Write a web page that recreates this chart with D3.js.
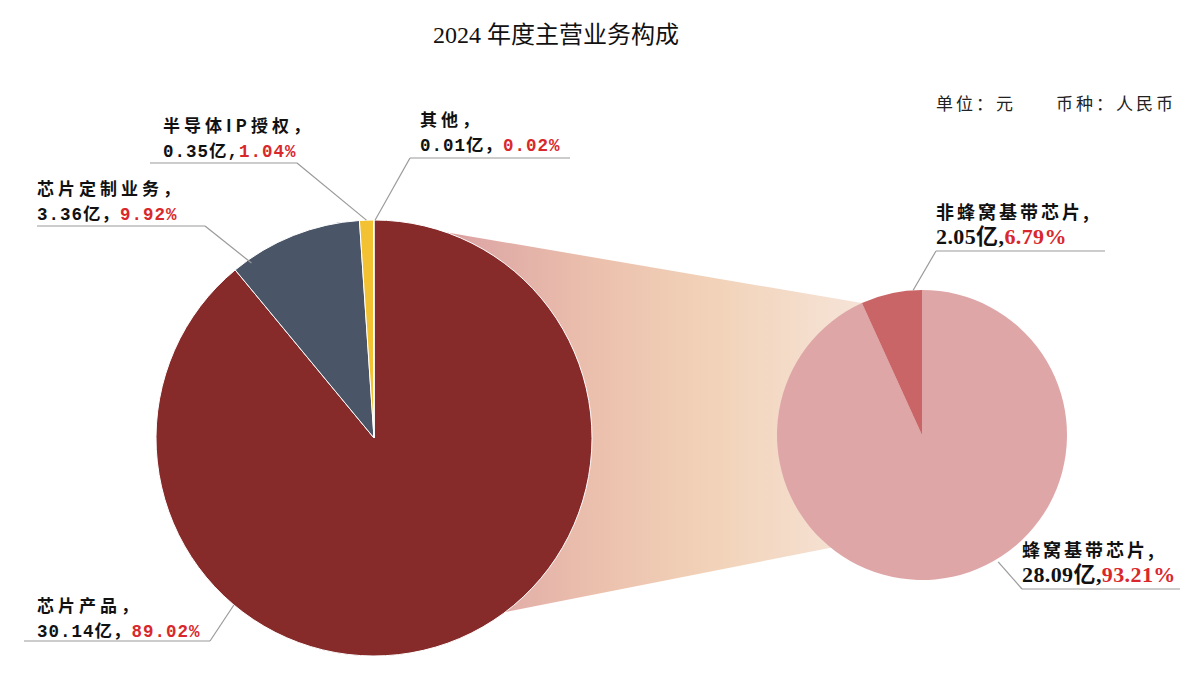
<!DOCTYPE html>
<html><head><meta charset="utf-8">
<script src="https://cdn.jsdelivr.net/npm/d3@7/dist/d3.min.js"></script>
<style>
html,body{margin:0;padding:0;background:#fff;}
svg{display:block;}
</style></head>
<body><svg id="chart" width="1200" height="688"></svg>
<script>
// ---- data ----
const title = "2024 年度主营业务构成";
const unitText = "单位：元　　币种：人民币";
const mainCategories = ["芯片产品", "芯片定制业务", "半导体IP授权", "其他"];
const mainValues = [30.14, 3.36, 0.35, 0.01];
const mainValueLabels = ["30.14亿，", "3.36亿，", "0.35亿,", "0.01亿，"];
const mainPercents = ["89.02%", "9.92%", "1.04%", "0.02%"];
const subCategories = ["蜂窝基带芯片", "非蜂窝基带芯片"];
const subValues = [28.09, 2.05];
const subValueLabels = ["28.09亿,", "2.05亿,"];
const subPercents = ["93.21%", "6.79%"];

// ---- styles / layout ----
const mainColors = ["#862a2a", "#4a5568", "#f2c232", "#f7e6a0"];
const subColors = ["#dfa6a8", "#c96566"];
const red = "#d8282c";
const mainC = {x: 374, y: 438, r: 218};
const subC = {x: 922, y: 435, r: 145};

const mainLabelLayout = [
  {tx: 37, ty: 612, uy: 641, ux0: 24, ux1: 210, knee: 210, ang: 220, rf: 1.0, font: "sans"},
  {tx: 37, ty: 195, uy: 226, ux0: 37, ux1: 205, knee: 205, ang: 325, rf: 0.98, font: "sans"},
  {tx: 163, ty: 132, uy: 163, ux0: 150, ux1: 297, knee: 297, ang: 358, rf: 1.0, font: "sans"},
  {tx: 420, ty: 126, uy: 158, ux0: 410, ux1: 570, knee: 410, ang: 0.3, rf: 1.0, font: "sans"}
];
const subLabelLayout = [
  {tx: 1022, ty: 557, uy: 589, ux0: 1022, ux1: 1180, knee: 1022, ang: 149, rf: 1.02, font: "serif"},
  {tx: 936, ty: 219, uy: 251, ux0: 936, ux1: 1105, knee: 936, ang: 356.5, rf: 1.0, font: "serif"}
];

const svg = d3.select("#chart");
const defs = svg.append("defs");

svg.append("text").attr("x", 556).attr("y", 43).attr("text-anchor", "middle")
  .attr("font-family", "'Liberation Serif','Noto Sans CJK SC',serif")
  .attr("font-size", 24).attr("fill", "#111").text(title);
svg.append("text").attr("x", 1176).attr("y", 110).attr("text-anchor", "end")
  .attr("font-family", "'Noto Sans CJK SC',sans-serif")
  .attr("font-size", 17).attr("letter-spacing", 3).attr("fill", "#222").text(unitText);

const pieGen = d3.pie().sort(null).value(d => d).startAngle(0).endAngle(2 * Math.PI);
const mainArcs = pieGen(mainValues);
const subArcs = pieGen(subValues);

function pt(c, angDeg, rf) {
  const a = angDeg * Math.PI / 180;
  return [c.x + c.r * rf * Math.sin(a), c.y - c.r * rf * Math.cos(a)];
}

const grad = defs.append("linearGradient").attr("id", "band")
  .attr("gradientUnits", "userSpaceOnUse")
  .attr("x1", mainC.x).attr("y1", 0).attr("x2", subC.x - subC.r * 0.4).attr("y2", 0);
[[0, "#c77272"], [0.2, "#dea7a5"], [0.45, "#ebc0ad"], [0.7, "#f2d3b9"], [1, "#f6e4d8"]]
  .forEach(s => grad.append("stop").attr("offset", s[0]).attr("stop-color", s[1]));

const subSmall = subArcs[1];
const pTopMain = pt(mainC, 0, 1);
const pTopSub = pt(subC, subSmall.startAngle * 180 / Math.PI, 1);
const pBotSub = pt(subC, 219, 1.0);
const pBotMain = pt(mainC, 143, 1.0);
svg.append("path")
  .attr("d", d3.line()([pTopMain, pTopSub, [subC.x, subC.y], pBotSub, pBotMain, [mainC.x, mainC.y]]) + "Z")
  .attr("fill", "url(#band)");

const mainArc = d3.arc().innerRadius(0).outerRadius(mainC.r);
svg.append("g").attr("transform", `translate(${mainC.x},${mainC.y})`)
  .selectAll("path").data(mainArcs).join("path")
  .attr("d", mainArc).attr("fill", (d, i) => mainColors[i])
  .attr("stroke", "#fff").attr("stroke-width", 1);

const subArc = d3.arc().innerRadius(0).outerRadius(subC.r);
svg.append("g").attr("transform", `translate(${subC.x},${subC.y})`)
  .selectAll("path").data(subArcs).join("path")
  .attr("d", subArc).attr("fill", (d, i) => subColors[i]);

function drawLabel(c, lay, name, valTxt, pctTxt) {
  const target = pt(c, lay.ang, lay.rf);
  svg.append("path")
    .attr("d", d3.line()([[lay.ux0, lay.uy], [lay.ux1, lay.uy]]))
    .attr("stroke", "#9a9a9a").attr("stroke-width", 1.2).attr("fill", "none");
  svg.append("path")
    .attr("d", d3.line()([[lay.knee, lay.uy], target]))
    .attr("stroke", "#9a9a9a").attr("stroke-width", 1.2).attr("fill", "none");
  const serif = lay.font === "serif";
  const fam = serif
    ? "'Liberation Serif','Noto Sans CJK SC',serif"
    : "'Liberation Mono','Noto Sans CJK SC',sans-serif";
  svg.append("text").attr("x", lay.tx).attr("y", lay.ty)
    .attr("font-family", "'Noto Sans CJK SC',sans-serif").attr("font-weight", "bold")
    .attr("font-size", serif ? 18 : 17).attr("letter-spacing", serif ? 3 : 4)
    .attr("fill", "#111").text(name + (serif ? "," : "，"));
  const t = svg.append("text").attr("x", lay.tx).attr("y", lay.ty + 25)
    .attr("font-family", fam).attr("font-weight", "bold")
    .attr("font-size", serif ? 22 : 17.5).attr("letter-spacing", serif ? 0.4 : 1.0);
  t.append("tspan").attr("fill", "#111").text(valTxt);
  t.append("tspan").attr("fill", red).text(pctTxt);
}
mainCategories.forEach((n, i) => drawLabel(mainC, mainLabelLayout[i], n, mainValueLabels[i], mainPercents[i]));
subCategories.forEach((n, i) => drawLabel(subC, subLabelLayout[i], n, subValueLabels[i], subPercents[i]));
</script></body></html>
